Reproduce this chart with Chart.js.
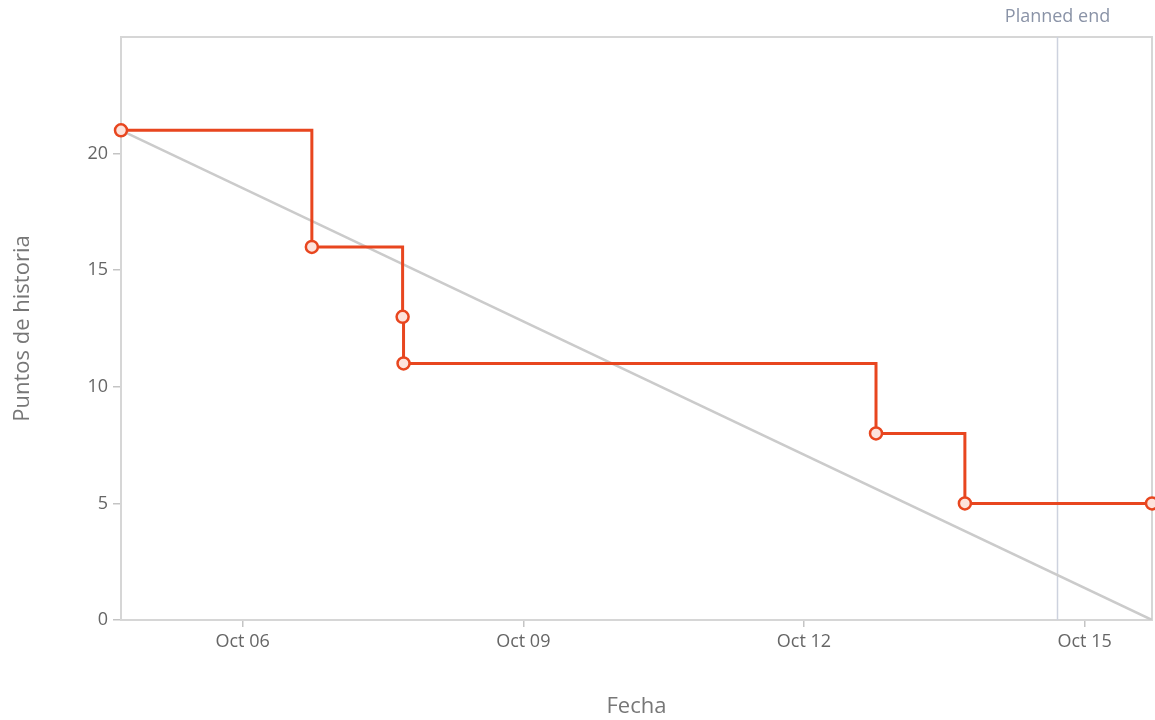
<!DOCTYPE html>
<html lang="es">
<head>
  <meta charset="UTF-8">
  <title>Burndown</title>
  <script src="https://cdn.jsdelivr.net/npm/chart.js@4.4.1/dist/chart.umd.min.js"></script>
  <style>
    html, body { margin: 0; padding: 0; background: #fff; }
    #wrap { width: 1155px; height: 720px; }
  </style>
</head>
<body>
  <div id="wrap"><canvas id="burndown"></canvas></div>
  <script>
    // x values are days of October (fractional = time of day)
    const actualDays = [4.70, 6.74, 7.71, 7.72, 12.77, 13.72, 15.72];
    const actualPoints = [21, 16, 13, 11, 8, 5, 5];
    const idealDays = [4.70, 15.72];
    const idealPoints = [21, 0];
    const plannedEndDay = 14.71;
    const tickDays = [6, 9, 12, 15];
    const tickLabels = ['Oct 06', 'Oct 09', 'Oct 12', 'Oct 15'];
    const yTicks = [0, 5, 10, 15, 20];

    const fontFamily = '"Open Sans", "Noto Sans", sans-serif';

    // plot frame + planned end marker
    const framePlugin = {
      id: 'frame',
      beforeDatasetsDraw(chart) {
        const { ctx, chartArea: a, scales } = chart;
        ctx.save();
        ctx.strokeStyle = '#d6d6d6';
        ctx.lineWidth = 2;
        ctx.strokeRect(a.left, a.top, a.right - a.left, a.bottom - a.top);

        const x = scales.x.getPixelForValue(plannedEndDay);
        ctx.strokeStyle = '#cdd2de';
        ctx.lineWidth = 1.5;
        ctx.beginPath();
        ctx.moveTo(x, a.top);
        ctx.lineTo(x, a.bottom);
        ctx.stroke();

        ctx.fillStyle = '#8a93a7';
        ctx.font = '18px ' + fontFamily;
        ctx.textAlign = 'center';
        ctx.textBaseline = 'middle';
        ctx.fillText('Planned end', x, 17);
        ctx.restore();
      }
    };

    const toXY = (xs, ys) => xs.map((x, i) => ({ x: x, y: ys[i] }));

    new Chart(document.getElementById('burndown'), {
      type: 'line',
      data: {
        datasets: [
          {
            label: 'Real',
            data: toXY(actualDays, actualPoints),
            stepped: 'before',
            borderColor: '#e8461f',
            borderWidth: 3,
            pointRadius: 6,
            pointBorderWidth: 2.5,
            pointBackgroundColor: '#fde3dc',
            pointBorderColor: '#e8461f',
            clip: 8,
            order: 1
          },
          {
            label: 'Ideal',
            data: toXY(idealDays, idealPoints),
            borderColor: '#cbcbcb',
            borderWidth: 2.5,
            pointRadius: 0,
            order: 2
          }
        ]
      },
      options: {
        responsive: true,
        maintainAspectRatio: false,
        animation: false,
        layout: { autoPadding: false, padding: { top: 37, right: 3, left: 10, bottom: 0 } },
        plugins: {
          legend: { display: false },
          tooltip: { enabled: false }
        },
        scales: {
          x: {
            type: 'linear',
            min: idealDays[0],
            max: idealDays[1],
            afterBuildTicks: (s) => { s.ticks = tickDays.map(v => ({ value: v })); },
            afterFit: (s) => { s.height = 100; },
            border: { display: false },
            grid: { drawOnChartArea: false, drawTicks: true, tickLength: 7, color: '#c4c4c4', lineWidth: 1.5 },
            ticks: {
              padding: 4,
              color: '#666',
              font: { family: fontFamily, size: 18 },
              maxRotation: 0,
              callback: (v) => tickLabels[tickDays.indexOf(v)]
            },
            title: {
              display: true,
              text: 'Fecha',
              color: '#777',
              padding: 0,
              font: { family: fontFamily, size: 22 }
            }
          },
          y: {
            min: 0,
            max: 25,
            afterBuildTicks: (s) => { s.ticks = yTicks.map(v => ({ value: v })); },
            afterFit: (s) => { s.width = 111; },
            border: { display: false },
            grid: { drawOnChartArea: false, drawTicks: true, tickLength: 8, color: '#c4c4c4', lineWidth: 1.5 },
            ticks: {
              padding: 5,
              color: '#666',
              font: { family: fontFamily, size: 18 }
            },
            title: {
              display: true,
              text: 'Puntos de historia',
              color: '#777',
              padding: 0,
              font: { family: fontFamily, size: 22 }
            }
          }
        }
      },
      plugins: [framePlugin]
    });
  </script>
</body>
</html>
